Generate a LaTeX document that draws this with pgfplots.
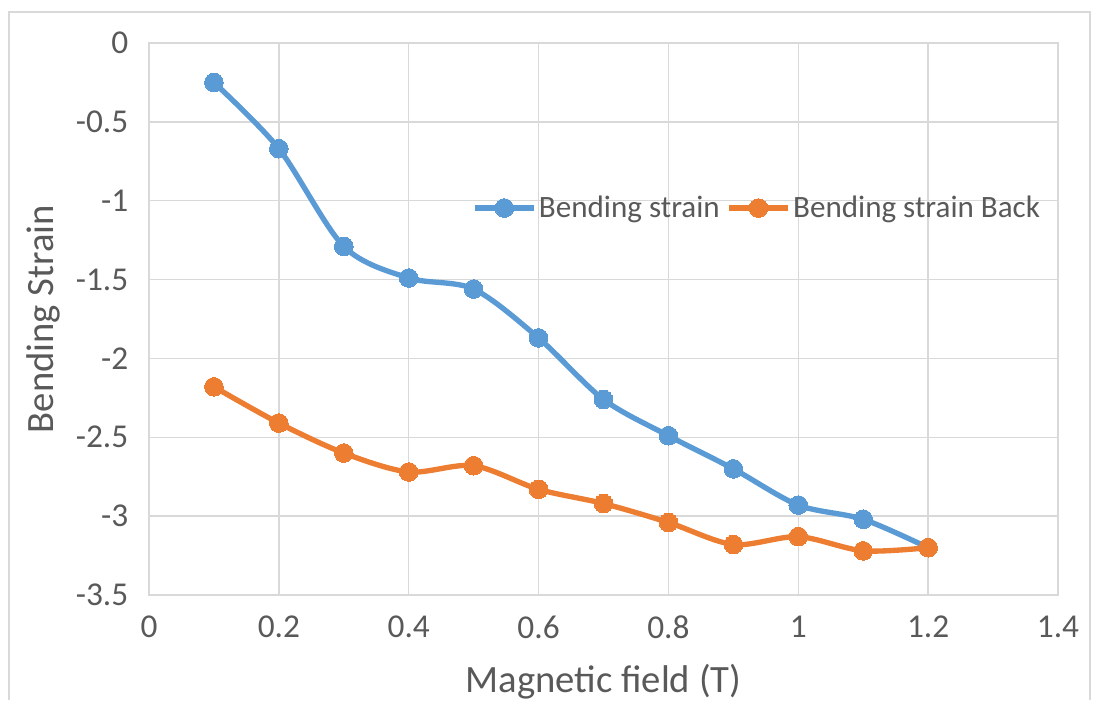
\documentclass[border=0pt]{standalone}
\usepackage{fontspec}
\setmainfont{Carlito}
\usepackage{pgfplots}
\pgfplotsset{compat=1.18}
\definecolor{cblue}{HTML}{5B9BD5}
\definecolor{corange}{HTML}{ED7D31}
\definecolor{cgrid}{HTML}{D9D9D9}
\definecolor{ctext}{HTML}{595959}
\begin{document}
\begin{tikzpicture}[x=0.75pt,y=0.75pt]
\useasboundingbox (-149,595) rectangle (945,-105);
\begin{axis}[
  at={(0,0)}, anchor=south west,
  scale only axis, width=681.75pt, height=414pt,
  xmin=0, xmax=1.4, ymin=-3.5, ymax=0,
  xtick={0,0.2,...,1.4}, ytick={-3.5,-3,...,0},
  yticklabels={-3.5,-3,-2.5,-2,-1.5,-1,-0.5,0},
  xticklabels={0,0.2,0.4,0.6,0.8,1,1.2,1.4},
  grid=major, major grid style={cgrid, line width=1pt},
  axis line style={cgrid, line width=1pt},
  tick style={draw=none},
  ticklabel style={font=\fontsize{25}{30}\selectfont, text=ctext},
  xticklabel style={yshift=-12pt},
  yticklabel style={xshift=-12pt},
  xlabel={Magnetic field (T)}, ylabel={Bending Strain},
  label style={font=\fontsize{29}{34}\selectfont, text=ctext},
  xlabel style={yshift=-12pt},
  ylabel style={yshift=5pt},
  /pgf/number format/assume math mode=true,
  legend columns=2,
  legend style={at={(0.351,0.701)}, anchor=west, draw=none, fill=none,
    font=\fontsize{23.3}{27}\selectfont, text=ctext,
    /tikz/every even column/.append style={column sep=3pt}},
  legend image code/.code={\draw[#1, mark repeat=2, mark phase=2] plot coordinates {(0pt,0pt) (22pt,0pt) (44pt,0pt)};},
]
\addplot[cblue, line width=4pt, smooth, tension=0.5, mark=*, mark size=7pt, mark options={solid, fill=cblue, draw=cblue, line width=0pt}] coordinates {
(0.1,-0.25) (0.2,-0.67) (0.3,-1.29) (0.4,-1.49) (0.5,-1.56) (0.6,-1.87)
(0.7,-2.26) (0.8,-2.49) (0.9,-2.70) (1.0,-2.93) (1.1,-3.02) (1.2,-3.20)};
\addlegendentry{Bending strain}
\addplot[corange, line width=4pt, smooth, tension=0.5, mark=*, mark size=7pt, mark options={solid, fill=corange, draw=corange, line width=0pt}] coordinates {
(0.1,-2.18) (0.2,-2.41) (0.3,-2.60) (0.4,-2.72) (0.5,-2.68) (0.6,-2.83)
(0.7,-2.92) (0.8,-3.04) (0.9,-3.18) (1.0,-3.13) (1.1,-3.22) (1.2,-3.20)};
\addlegendentry{Bending strain Back}
\end{axis}
\draw[cgrid, line width=1.5pt] (-140,-105) -- (-140,583) -- (941,583) -- (941,-105);
\end{tikzpicture}
\end{document}
